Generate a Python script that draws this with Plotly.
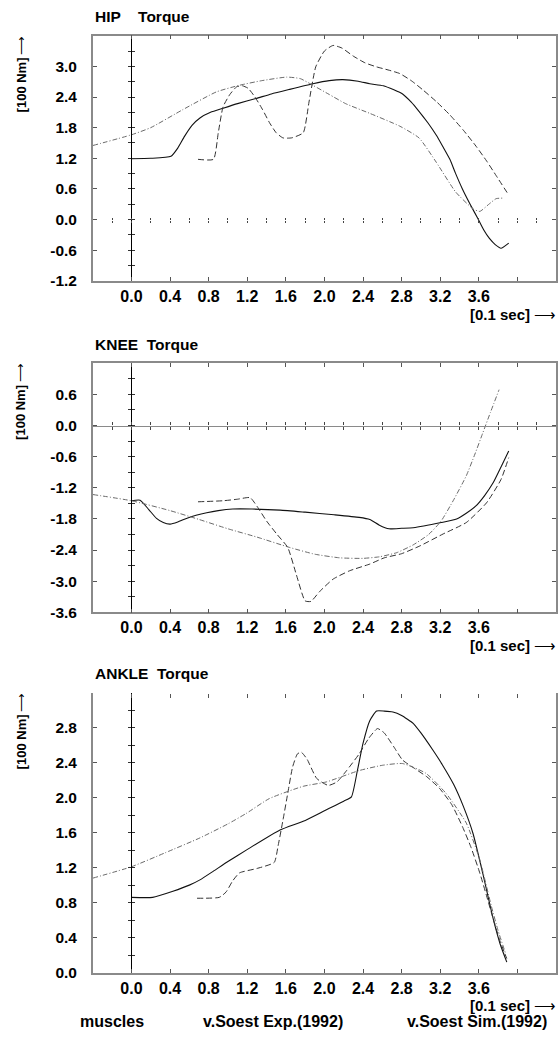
import plotly.graph_objects as go

W, H = 558, 1057

# ---------------- data ----------------
hip_mus_x = [0, 0.2, 0.41, 0.48, 0.55, 0.63, 0.71, 0.82, 0.95, 1.1, 1.29, 1.45, 1.64, 1.88, 2.05, 2.19,
             2.35, 2.47, 2.61, 2.72, 2.81, 2.9, 2.98, 3.07, 3.16, 3.23, 3.30, 3.36, 3.43, 3.51, 3.59, 3.65,
             3.71, 3.77, 3.83, 3.91]
hip_mus_y = [1.19, 1.20, 1.24, 1.40, 1.63, 1.85, 1.99, 2.10, 2.18, 2.27, 2.37, 2.46, 2.55, 2.66, 2.72, 2.74,
             2.71, 2.66, 2.62, 2.54, 2.46, 2.30, 2.12, 1.90, 1.65, 1.42, 1.18, 0.90, 0.60, 0.30, 0.02, -0.20,
             -0.37, -0.49, -0.56, -0.46]
hip_exp_x = [0.69, 0.85, 0.90, 0.95, 1.02, 1.09, 1.15, 1.21, 1.28, 1.36, 1.43, 1.50, 1.57, 1.66, 1.78, 1.84,
             1.91, 2.0, 2.09, 2.18, 2.30, 2.42, 2.54, 2.66, 2.78, 2.90, 3.02, 3.16, 3.30, 3.44, 3.57, 3.68,
             3.78, 3.91]
hip_exp_y = [1.18, 1.18, 1.70, 2.21, 2.45, 2.60, 2.62, 2.57, 2.40, 2.15, 1.90, 1.70, 1.60, 1.60, 1.70, 2.30,
             2.99, 3.30, 3.41, 3.36, 3.20, 3.07, 2.99, 2.93, 2.86, 2.72, 2.54, 2.31, 2.05, 1.75, 1.44, 1.15,
             0.86, 0.48]
hip_sim_x = [-0.4, 0, 0.2, 0.53, 0.88, 1.12, 1.35, 1.61, 1.75, 1.88, 2.05, 2.22, 2.47, 2.78, 2.98, 3.16,
             3.36, 3.54, 3.61, 3.71, 3.78, 3.85]
hip_sim_y = [1.45, 1.66, 1.80, 2.15, 2.50, 2.63, 2.72, 2.79, 2.76, 2.63, 2.45, 2.27, 2.08, 1.83, 1.60, 1.12,
             0.54, 0.21, 0.16, 0.31, 0.41, 0.42]

knee_mus_x = [0, 0.09, 0.18, 0.26, 0.33, 0.40, 0.48, 0.57, 0.67, 0.78, 0.9, 1.05, 1.25, 1.54, 1.8, 2.1,
              2.36, 2.47, 2.57, 2.67, 2.8, 2.92, 3.21, 3.37, 3.47, 3.57, 3.66, 3.75, 3.83, 3.91]
knee_mus_y = [-1.45, -1.44, -1.62, -1.79, -1.87, -1.90, -1.86, -1.79, -1.73, -1.68, -1.64, -1.61, -1.61,
              -1.63, -1.67, -1.72, -1.77, -1.81, -1.92, -1.99, -1.98, -1.97, -1.87, -1.80, -1.69, -1.55,
              -1.35, -1.10, -0.80, -0.49]
knee_exp_x = [0.69, 0.95, 1.1, 1.23, 1.31, 1.40, 1.51, 1.62, 1.71, 1.80, 1.86, 1.95, 2.09, 2.26, 2.47, 2.62,
              2.80, 2.99, 3.23, 3.47, 3.68, 3.83, 3.91]
knee_exp_y = [-1.47, -1.45, -1.42, -1.39, -1.58, -1.84, -2.10, -2.35, -2.88, -3.38, -3.39, -3.20, -2.96,
              -2.80, -2.67, -2.55, -2.47, -2.32, -2.09, -1.87, -1.49, -1.04, -0.62]
knee_sim_x = [-0.4, 0, 0.4, 0.7, 1.0, 1.3, 1.64, 1.9, 2.16, 2.4, 2.57, 2.75, 2.92, 3.08, 3.21, 3.34, 3.47,
              3.56, 3.64, 3.72, 3.81]
knee_sim_y = [-1.33, -1.45, -1.64, -1.81, -1.99, -2.15, -2.35, -2.48, -2.55, -2.56, -2.53, -2.45, -2.30,
              -2.10, -1.84, -1.43, -0.97, -0.55, -0.15, 0.25, 0.69]

ankle_mus_x = [0, 0.22, 0.43, 0.6, 0.71, 0.85, 1.0, 1.19, 1.54, 1.78, 2.0, 2.2, 2.28, 2.34, 2.40, 2.47, 2.54,
               2.62, 2.71, 2.80, 2.92, 3.0, 3.12, 3.22, 3.34, 3.44, 3.54, 3.64, 3.75, 3.82, 3.89]
ankle_mus_y = [0.86, 0.86, 0.93, 1.00, 1.06, 1.16, 1.27, 1.40, 1.63, 1.73, 1.85, 1.96, 2.01, 2.30, 2.62, 2.88,
               2.99, 2.99, 2.98, 2.94, 2.85, 2.74, 2.55, 2.38, 2.15, 1.90, 1.59, 1.14, 0.61, 0.33, 0.12]
ankle_exp_x = [0.68, 0.91, 0.98, 1.05, 1.12, 1.30, 1.48, 1.52, 1.57, 1.62, 1.67, 1.72, 1.76, 1.82, 1.92,
               2.04, 2.13, 2.23, 2.36, 2.46, 2.55, 2.62, 2.72, 2.81, 2.94, 3.06, 3.19, 3.32, 3.43, 3.52,
               3.61, 3.68, 3.75, 3.82, 3.89]
ankle_exp_y = [0.85, 0.86, 0.92, 1.05, 1.14, 1.19, 1.26, 1.45, 1.74, 2.05, 2.35, 2.50, 2.52, 2.44, 2.22,
               2.14, 2.18, 2.31, 2.50, 2.68, 2.79, 2.74, 2.58, 2.43, 2.33, 2.24, 2.11, 1.92, 1.67, 1.43,
               1.14, 0.88, 0.61, 0.36, 0.16]
ankle_sim_x = [-0.4, 0, 0.35, 0.71, 1.0, 1.19, 1.43, 1.78, 2.02, 2.36, 2.6, 2.81, 3.05, 3.26, 3.47, 3.61,
               3.73, 3.80, 3.88]
ankle_sim_y = [1.08, 1.21, 1.37, 1.54, 1.70, 1.82, 1.99, 2.13, 2.18, 2.31, 2.37, 2.39, 2.28, 2.05, 1.71,
               1.29, 0.76, 0.48, 0.21]

x_ticks = [0.0, 0.4, 0.8, 1.2, 1.6, 2.0, 2.4, 2.8, 3.2, 3.6, 4.0]
x_tick_text = ["0.0", "0.4", "0.8", "1.2", "1.6", "2.0", "2.4", "2.8", "3.2", "3.6", ""]
hip_y_ticks = [-1.2, -0.6, 0.0, 0.6, 1.2, 1.8, 2.4, 3.0]
knee_y_ticks = [-3.6, -3.0, -2.4, -1.8, -1.2, -0.6, 0.0, 0.6]
ankle_y_ticks = [0.0, 0.4, 0.8, 1.2, 1.6, 2.0, 2.4, 2.8]

series_names = ["muscles", "v.Soest Exp.(1992)", "v.Soest Sim.(1992)"]
titles = ["HIP\u00a0\u00a0\u00a0\u00a0Torque", "KNEE\u00a0\u00a0Torque", "ANKLE\u00a0\u00a0Torque"]

# ---------------- styling / layout ----------------
FONT = "Liberation Sans, Arial, Helvetica, sans-serif"
BOX = "#8a8a8a"
XR = [-0.4, 4.4]
X_DOM = [93 / W, 557 / W]

panels = [
    dict(title=titles[0], top=36, bot=283, yr=[-1.2, 3.6], yt=hip_y_ticks,
         vdt=0.3, zero="ticks", topline=True,
         data=[(hip_mus_x, hip_mus_y), (hip_exp_x, hip_exp_y), (hip_sim_x, hip_sim_y)]),
    dict(title=titles[1], top=366, bot=617, yr=[-3.6, 1.2], yt=knee_y_ticks,
         vdt=0.3, zero="line", topline=True,
         data=[(knee_mus_x, knee_mus_y), (knee_exp_x, knee_exp_y), (knee_sim_x, knee_sim_y)]),
    dict(title=titles[2], top=698, bot=980, yr=[0.0, 3.2], yt=ankle_y_ticks,
         vdt=0.2, zero=None, topline=False,
         data=[(ankle_mus_x, ankle_mus_y), (ankle_exp_x, ankle_exp_y), (ankle_sim_x, ankle_sim_y)]),
]

line_styles = [
    dict(color="#111111", width=1.1, dash="solid"),
    dict(color="#333333", width=1.0, dash="6px,3px"),
    dict(color="#6a6a6a", width=1.0, dash="5px,2px,1px,2px"),
]

fig = go.Figure()
layout = dict(width=W, height=H, margin=dict(l=0, r=0, t=0, b=0, pad=0),
              paper_bgcolor="white", plot_bgcolor="white", showlegend=False,
              font=dict(family=FONT, size=15, color="black"))
annotations = []
ax_n = 0


def axname(kind, n):
    return kind + ("" if n == 1 else str(n))


def ypix(p, v):
    return p["bot"] - (v - p["yr"][0]) / (p["yr"][1] - p["yr"][0]) * (p["bot"] - p["top"])


for p in panels:
    ax_n += 1
    xa, ya = ax_n, ax_n
    ydom = [1 - p["bot"] / H, 1 - p["top"] / H]
    layout[axname("xaxis", xa)] = dict(
        domain=X_DOM, range=XR, anchor=axname("y", ya), tickvals=x_ticks, ticktext=x_tick_text,
        ticks="inside", ticklen=4, tickcolor="#555", showline=True, linecolor=BOX, linewidth=1.5,
        mirror="ticks" if p["topline"] else False, showgrid=False, zeroline=False,
        tickfont=dict(family=FONT, size=16, weight="bold"), ticklabelstandoff=0)
    layout[axname("yaxis", ya)] = dict(
        domain=ydom, range=p["yr"], anchor=axname("x", xa), tickvals=p["yt"],
        ticktext=["%.1f" % v for v in p["yt"]], ticks="inside", ticklen=4, tickcolor="#555",
        showline=True, linecolor=BOX, linewidth=1.5, mirror="ticks", showgrid=False, zeroline=False,
        tickfont=dict(family=FONT, size=15.5, weight="bold"), ticklabelstandoff=11)

    for (xs, ys), st, nm in zip(p["data"], line_styles, series_names):
        fig.add_trace(go.Scatter(x=xs, y=ys, mode="lines", name=nm,
                                 line=dict(shape="spline", smoothing=0.5, **st),
                                 xaxis=axname("x", xa), yaxis=axname("y", ya), hoverinfo="skip"))

    # vertical axis line at x = 0 with crossing ticks
    x0pos = X_DOM[0] + (0 - XR[0]) / (XR[1] - XR[0]) * (X_DOM[1] - X_DOM[0])
    n_steps = int(round((p["yr"][1] - p["yr"][0]) / p["vdt"]))
    vt = [round(p["yr"][0] + i * p["vdt"], 3) for i in range(1, n_steps)]
    for side in ("inside", "outside"):
        ax_n += 1
        layout[axname("yaxis", ax_n)] = dict(
            overlaying=axname("y", ya), anchor="free", position=x0pos, range=p["yr"], domain=ydom,
            showline=(side == "inside"), linecolor="black", linewidth=1, ticks=side, ticklen=3,
            tickcolor="#333", tickvals=vt, showticklabels=False, showgrid=False, zeroline=False)
        fig.add_trace(go.Scatter(x=[None], y=[None], xaxis=axname("x", xa), yaxis=axname("y", ax_n),
                                 showlegend=False, hoverinfo="skip"))

    # horizontal zero line
    if p["zero"]:
        zpos = 1 - ypix(p, 0.0) / H
        zt = [round(-0.2 + 0.2 * i, 2) for i in range(23)]
        for side in ("inside", "outside"):
            ax_n += 1
            layout[axname("xaxis", ax_n)] = dict(
                overlaying=axname("x", xa), anchor="free", position=zpos, range=XR, domain=X_DOM,
                showline=(p["zero"] == "line" and side == "inside"), linecolor=BOX, linewidth=1.2,
                ticks=side, ticklen=3 if p["zero"] == "line" else 2, tickcolor="#444",
                tickvals=zt, showticklabels=False, showgrid=False, zeroline=False)
            fig.add_trace(go.Scatter(x=[None], y=[None], xaxis=axname("x", ax_n), yaxis=axname("y", ya),
                                     showlegend=False, hoverinfo="skip"))
    if not p["topline"]:
        ax_n += 1
        layout[axname("xaxis", ax_n)] = dict(
            overlaying=axname("x", xa), anchor="free", position=ydom[1], side="top", range=XR,
            domain=X_DOM, showline=False, ticks="inside", ticklen=4, tickcolor="#555",
            tickvals=x_ticks, showticklabels=False, showgrid=False, zeroline=False)
        fig.add_trace(go.Scatter(x=[None], y=[None], xaxis=axname("x", ax_n), yaxis=axname("y", ya),
                                 showlegend=False, hoverinfo="skip"))

    # texts
    annotations.append(dict(text=p["title"], x=93 / W, y=1 - (p["top"] - 19) / H, xref="paper", yref="paper",
                            xanchor="left", yanchor="middle", showarrow=False,
                            font=dict(family=FONT, size=15.5, weight="bold")))
    annotations.append(dict(text="<b>[100 Nm]</b>\u2009\u27f6", x=21 / W, y=1 - (p["top"] + 38) / H,
                            xref="paper", yref="paper", xanchor="center", yanchor="middle", textangle=-90,
                            showarrow=False, font=dict(family=FONT, size=13, weight="normal")))
    annotations.append(dict(text="<b>[0.1 sec]</b> \u27f6", x=558 / W, y=1 - (p["bot"] + 24) / H,
                            xref="paper", yref="paper", xanchor="right", yanchor="top", showarrow=False,
                            borderpad=0, font=dict(family=FONT, size=15, weight="normal")))

for nm, cx in zip(series_names, [112, 273, 478]):
    annotations.append(dict(text=nm, x=cx / W, y=1 - 1029 / H, xref="paper", yref="paper", xanchor="center",
                            yanchor="middle", showarrow=False, font=dict(family=FONT, size=16, weight="bold")))

layout["annotations"] = annotations
fig.update_layout(**layout)
fig.write_html("out.html", config={"displayModeBar": False},
               post_script="document.body.style.margin='0';")
